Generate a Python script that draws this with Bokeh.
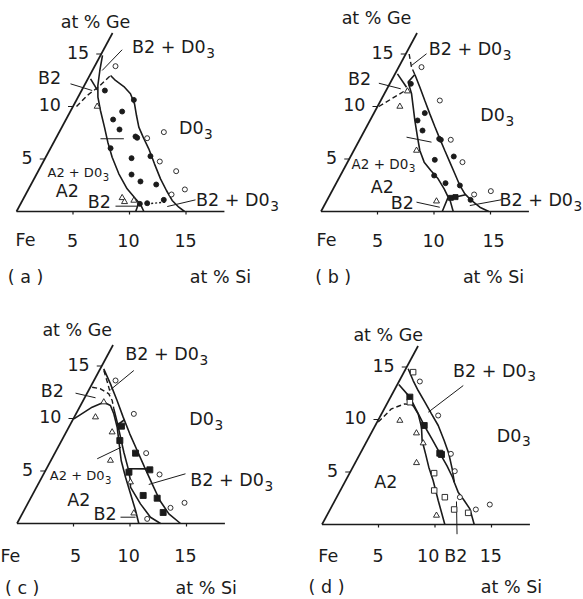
import numpy as np
from bokeh.plotting import figure
from bokeh.layouts import gridplot
from bokeh.models import Range1d
from bokeh.core.properties import value
from bokeh.embed import file_html
from bokeh.resources import INLINE

# ---------------------------------------------------------------------------
# Fe-rich corner of the Fe-Si-Ge system: compositions are (at.% Si, at.% Ge)
# ---------------------------------------------------------------------------
SI_TICKS = [5, 10, 15]
GE_TICKS = [5, 10, 15]
SI_EDGE_MAX = 18.4
GE_EDGE_MAX = 17.0

# (a)
A_LEFT = [(0.18, 14.86), (0.66, 13.43), (1.20, 12.00), (1.76, 10.89), (2.62, 9.62),
          (3.77, 8.03), (4.78, 6.60), (5.88, 5.17), (7.26, 3.59), (8.71, 2.16),
          (9.93, 1.21), (10.64, 0.67), (11.27, 0.0)]
A_RIGHT = [(1.85, 12.95), (2.52, 12.48), (3.55, 11.90), (4.48, 11.21), (5.32, 10.25),
           (6.05, 9.14), (6.81, 8.03), (7.67, 7.08), (8.72, 5.97), (9.94, 4.54),
           (11.19, 3.11), (12.27, 2.00), (13.25, 1.05), (14.16, 0.41), (14.87, 0.0)]
A_EXTRA = [[(0.24, 12.63), (1.35, 11.59)], [(10.40, 0.88), (10.55, 0.0)]]
A_DASHED = [[(0.31, 10.0), (0.73, 11.05), (1.34, 11.90), (1.85, 12.95)]]
A_DOTTED = [[(11.20, 0.73), (12.74, 0.89)]]
A_FILLED = [(2.06, 11.52), (5.07, 10.63), (4.59, 9.52), (4.17, 8.76), (5.21, 7.81),
            (6.96, 7.14), (7.17, 7.02), (5.31, 6.03), (7.64, 5.08), (9.22, 5.27),
            (8.42, 3.52), (9.54, 2.86), (11.08, 2.57), (12.48, 1.11), (10.55, 0.73),
            (11.17, 0.79)]
A_OPEN = [(1.84, 13.84), (9.26, 7.56), (8.07, 6.98), (10.30, 4.76), (12.21, 3.84),
          (13.85, 2.10), (12.91, 1.62)]
A_TRI = [(2.14, 10.0), (8.70, 1.30), (9.10, 0.92), (9.86, 1.05)]

# (b)
B_LEFT = [(1.78, 13.05), (1.55, 12.32), (2.41, 11.21), (3.19, 9.94), (3.97, 8.67),
          (5.00, 7.08), (5.84, 5.81), (6.78, 4.70), (7.77, 3.90), (8.81, 3.11),
          (9.82, 2.16), (10.57, 1.37), (10.73, 0.0)]
B_RIGHT = [(1.78, 13.05), (2.83, 11.84), (3.90, 10.57), (4.98, 9.30), (6.02, 8.10),
           (7.06, 6.92), (8.05, 5.81), (9.05, 4.70), (10.05, 3.59), (11.05, 2.48),
           (11.89, 1.68), (12.79, 1.05), (13.85, 0.41), (14.85, 0.0)]
B_EXTRA = [[(0.21, 13.11), (1.65, 11.84)], [(10.75, 1.25), (11.70, 0.0)],
           [(10.75, 1.25), (12.00, 1.60)]]
B_DASHED = [[(0.30, 15.0), (1.14, 13.74), (1.78, 13.05)], [(0.12, 10.0), (1.87, 11.69)]]
B_FILLED = [(1.87, 12.16), (4.50, 9.37), (4.21, 8.67), (5.13, 7.71), (7.00, 6.92),
            (7.19, 6.83), (7.61, 4.92), (9.13, 5.24), (8.30, 3.43), (9.67, 2.70),
            (11.05, 2.48), (12.68, 1.11)]
B_FILLED_SQ = [(10.84, 1.30), (11.22, 1.37)]
B_OPEN = [(2.02, 13.75), (5.23, 10.57), (8.07, 6.83), (10.17, 4.70), (12.74, 1.62),
          (14.06, 1.94)]
B_TRI = [(1.92, 11.46), (1.98, 10.0), (5.55, 5.81), (9.73, 0.98)]

# (c)
C_LEFT = [(0.05, 9.97), (1.11, 11.08), (1.91, 11.55), (2.65, 11.24), (3.34, 10.45),
          (4.28, 9.17), (5.06, 7.90), (6.22, 6.00), (7.40, 4.41), (8.63, 2.83),
          (9.87, 1.24), (10.78, 0.0)]
C_MIDDLE = [(3.11, 10.92), (4.04, 9.65), (5.05, 8.22), (6.06, 6.79), (7.12, 5.37),
            (7.99, 4.10), (8.31, 3.46), (9.99, 1.87), (11.51, 0.60), (12.70, 0.0)]
C_RIGHT = [(0.31, 14.73), (1.62, 13.30), (3.00, 11.71), (4.33, 10.13), (5.71, 8.54),
           (7.16, 6.95), (8.60, 5.37), (10.07, 3.78), (11.55, 2.19), (12.98, 0.92),
           (14.47, 0.0)]
C_EXTRA = [[(4.14, 9.33), (4.57, 9.88)], [(7.24, 5.21), (8.90, 5.20)]]
C_DASHED = [[(0.16, 12.98), (0.97, 12.83), (1.95, 12.35), (2.57, 11.71), (3.11, 10.92)],
            [(0.40, 14.57), (1.39, 13.30), (2.10, 12.35)]]
C_FILLED_SQ = [(4.61, 9.27), (5.15, 7.90), (7.14, 6.70), (7.46, 4.89), (9.20, 5.11),
               (9.83, 2.67), (11.20, 2.41), (12.41, 1.05)]
C_OPEN = [(1.91, 13.62), (5.12, 10.44), (8.08, 6.70), (10.28, 4.67), (12.84, 1.49),
          (13.84, 1.97), (11.30, 0.44)]
C_TRI = [(1.90, 11.56), (1.88, 10.13), (4.07, 8.70), (5.27, 6.00), (8.07, 3.94),
         (9.85, 0.98)]

# (d)
D_RIGHT = [(0.21, 14.83), (1.21, 13.71), (2.13, 12.76), (3.28, 11.65), (4.42, 10.54),
           (5.57, 9.43), (6.81, 8.00), (7.86, 6.73), (8.87, 5.30), (9.69, 4.03),
           (10.51, 3.08), (11.44, 2.29), (12.34, 1.49), (13.47, 0.0)]
D_MIDDLE = [(0.13, 13.33), (1.71, 12.13), (3.00, 10.80), (4.33, 9.43), (5.70, 8.10),
            (7.03, 6.79), (8.30, 5.55), (9.30, 4.50), (9.69, 4.03)]
D_LEFT = [(2.40, 11.33), (3.24, 10.54), (4.17, 9.27), (4.86, 8.00), (5.80, 6.73),
          (6.72, 5.46), (7.74, 4.19), (9.14, 2.29), (10.87, 0.0)]
D_DASHED = [[(0.10, 9.75), (0.64, 11.02), (1.59, 11.49), (2.40, 11.33)]]
D_FILLED_SQ = [(1.71, 12.13), (4.33, 9.43), (7.03, 6.79), (7.24, 6.67)]
D_OPEN = [(1.85, 13.62), (5.09, 10.38), (8.04, 6.73), (9.21, 5.08), (10.90, 2.60),
          (12.90, 1.43), (13.90, 1.90)]
D_OPEN_SQ = [(0.81, 14.51), (1.95, 11.65), (7.48, 4.89), (8.31, 3.24), (9.57, 2.60),
             (10.98, 1.43), (12.38, 1.11)]
D_TRI = [(1.94, 9.90), (4.01, 8.70), (5.08, 7.75), (5.43, 5.87), (9.70, 0.86)]

# ---------------------------------------------------------------------------
# Annotations, in plot units (x along the Si edge, y vertical)
# label: (x, y, text, font px, align, subscript)
# ---------------------------------------------------------------------------
LABELS_A = [(6.99, 15.67, "at % Ge", 17.5, "center", ""),
            (16.73, 13.53, "B2 + D0", 17.5, "right", "3"),
            (2.92, 11.05, "B2", 17.5, "center", ""),
            (16.55, 6.85, "D0", 17.5, "right", "3"),
            (7.58, 3.22, "A2 + D0", 13.0, "right", "3"),
            (4.49, 1.73, "A2", 17.5, "center", ""),
            (7.32, 0.77, "B2", 17.5, "center", ""),
            (22.40, 0.91, "B2 + D0", 17.5, "right", "3"),
            (0.80, -5.44, "( a )", 17.5, "center", ""),
            (18.05, -5.44, "at % Si", 17.5, "center", "")]
LABELS_B = [(4.91, 16.00, "at % Ge", 17.5, "center", ""),
            (16.04, 13.42, "B2 + D0", 17.5, "right", "3"),
            (3.41, 10.94, "B2", 17.5, "center", ""),
            (16.27, 7.92, "D0", 17.5, "right", "3"),
            (7.72, 3.93, "A2 + D0", 13.5, "right", "3"),
            (5.42, 2.00, "A2", 17.5, "center", ""),
            (7.20, 0.72, "B2", 17.5, "center", ""),
            (22.30, 0.91, "B2 + D0", 17.5, "right", "3"),
            (1.08, -5.42, "( b )", 17.5, "center", ""),
            (15.27, -5.42, "at % Si", 17.5, "center", "")]
LABELS_C = [(5.33, 15.92, "at % Ge", 17.5, "center", ""),
            (16.09, 14.00, "B2 + D0", 17.5, "right", "3"),
            (3.12, 10.89, "B2", 17.5, "center", ""),
            (17.42, 8.64, "D0", 17.5, "right", "3"),
            (7.74, 3.96, "A2 + D0", 13.0, "right", "3"),
            (5.47, 1.90, "A2", 17.5, "center", ""),
            (7.79, 0.80, "B2", 17.5, "center", ""),
            (21.84, 3.55, "B2 + D0", 17.5, "right", "3"),
            (0.46, -5.30, "( c )", 17.5, "center", ""),
            (16.75, -5.30, "at % Si", 17.5, "center", "")]
LABELS_D = [(5.86, 15.59, "at % Ge", 17.5, "center", ""),
            (18.10, 12.70, "B2 + D0", 17.5, "right", "3"),
            (17.65, 7.34, "D0", 17.5, "right", "3"),
            (5.64, 3.49, "A2", 17.5, "center", ""),
            (0.40, -5.17, "( d )", 17.5, "center", ""),
            (16.77, -5.17, "at % Si", 17.5, "center", "")]

# Si tick label placement per panel: (label x for 5/10/15, row y, "Fe" x, extras)
TICKROW_A = ([4.96, 9.91, 14.96], -2.39, 0.80, [])
TICKROW_B = ([5.00, 9.96, 15.27], -2.39, 0.49, [])
TICKROW_C = ([5.18, 9.88, 14.91], -2.64, -0.58, [])
TICKROW_D = ([4.97, 9.40, 14.94], -2.56, 0.55, [(11.84, "B2")])

LEADERS_A = [((4.78, 10.53), (6.70, 9.98)), ((9.35, 13.34), (7.58, 11.63)),
             ((7.43, 6.00), (9.50, 6.00)), ((8.76, 0.44), (10.74, 0.44)),
             ((15.84, 0.96), (13.34, 0.41))]
LEADERS_B = [((5.12, 10.58), (7.06, 10.12)), ((9.34, 13.01), (8.01, 12.04)),
             ((7.57, 6.13), (9.78, 5.72)), ((8.45, 0.77), (10.51, 0.35)),
             ((15.97, 0.97), (13.17, 0.49))]
LEADERS_C = [((5.18, 10.75), (6.95, 10.37)), ((10.34, 12.62), (8.27, 11.03)),
             ((7.10, 5.34), (9.22, 6.29)), ((14.91, 4.10), (11.66, 3.22)),
             ((9.16, 0.52), (10.49, 0.52))]
LEADERS_D = [((12.50, 11.46), (9.40, 9.26)), ((11.90, 1.90), (11.95, -0.80))]

# ---------------------------------------------------------------------------
INK = "#1b1b1b"
FONT = "DejaVu Sans"
SIN60 = np.sqrt(3.0) / 2.0
PX_X = 11.3            # screen px per plot unit, horizontal
PX_Y = 10.5 / SIN60    # screen px per plot unit, vertical


def proj(points):
    pts = np.asarray(points, dtype=float)
    return pts[:, 0] + 0.5 * pts[:, 1], pts[:, 1] * SIN60


def make_figure(width, height, fe_px):
    fx, fy = fe_px
    x0 = -fx / PX_X
    y0 = -(height - fy) / PX_Y
    p = figure(width=width, height=height,
               x_range=Range1d(x0, x0 + width / PX_X),
               y_range=Range1d(y0, y0 + height / PX_Y),
               x_axis_location=None, y_axis_location=None,
               toolbar_location=None, output_backend="svg",
               min_border=0, outline_line_color=None,
               background_fill_color="white", border_fill_color="white")
    p.grid.visible = False
    return p


def put_text(p, x, y, text, size, align="center", sub=""):
    p.text(x=[x], y=[y], text=[text], text_font=value(FONT),
           text_font_size=f"{size}px", text_align=align,
           text_baseline="middle", text_color=INK)
    if sub:
        p.text(x=[x + 0.6 / PX_X], y=[y - 0.33 * size / PX_Y], text=[sub],
               text_font=value(FONT), text_font_size=f"{0.78 * size:.1f}px",
               text_align="left", text_baseline="middle", text_color=INK)


def draw_frame(p, tickrow):
    label_x, tick_y, fe_x, extras = tickrow
    x, y = proj([(0, 0), (SI_EDGE_MAX, 0)])
    p.line(x, y, line_color=INK, line_width=1.7)
    x, y = proj([(0, 0), (0, GE_EDGE_MAX)])
    p.line(x, y, line_color=INK, line_width=1.7)
    tx, ty = proj([(t, 0) for t in SI_TICKS])
    p.segment(x0=tx, y0=ty, x1=tx, y1=ty - 3.0 / PX_Y, line_color=INK, line_width=1.2)
    gx, gy = proj([(0, g) for g in GE_TICKS])
    p.segment(x0=gx, y0=gy, x1=gx - 5.0 / PX_X, y1=gy, line_color=INK, line_width=1.2)
    p.text(x=label_x, y=[tick_y] * len(SI_TICKS), text=[str(t) for t in SI_TICKS],
           text_font=value(FONT), text_font_size="17.5px", text_align="center",
           text_baseline="middle", text_color=INK)
    p.text(x=list(gx - 12.0 / PX_X), y=list(gy + 2.0 / PX_Y),
           text=[str(g) for g in GE_TICKS], text_font=value(FONT),
           text_font_size="17.5px", text_align="right", text_baseline="middle",
           text_color=INK)
    put_text(p, fe_x, tick_y, "Fe", 17.5)
    for (lx, ltxt) in extras:
        put_text(p, lx, tick_y, ltxt, 17.5)


def draw_lines(p, solid, dashed=(), dotted=()):
    for pts in solid:
        x, y = proj(pts)
        p.line(x, y, line_color=INK, line_width=1.6)
    for pts in dashed:
        x, y = proj(pts)
        p.line(x, y, line_color=INK, line_width=1.4, line_dash="5 3")
    for pts in dotted:
        x, y = proj(pts)
        p.line(x, y, line_color=INK, line_width=1.4, line_dash="2 2")


def draw_leaders(p, leaders):
    for (a, b) in leaders:
        p.line([a[0], b[0]], [a[1], b[1]], line_color=INK, line_width=1.0)


def draw_points(p, pts, marker, filled, size):
    if not pts:
        return
    x, y = proj(pts)
    p.scatter(x, y, marker=marker, size=size, line_color=INK, line_width=0.9,
              fill_color=INK if filled else "white")


def draw_labels(p, labels):
    for (x, y, txt, size, align, sub) in labels:
        put_text(p, x, y, txt, size, align, sub)


# (a)
pa = make_figure(291, 300, (16.0, 211.0))
draw_lines(pa, [A_LEFT, A_RIGHT] + A_EXTRA, A_DASHED, A_DOTTED)
draw_leaders(pa, LEADERS_A)
draw_frame(pa, TICKROW_A)
draw_points(pa, A_FILLED, "circle", True, 5)
draw_points(pa, A_OPEN, "circle", False, 5)
draw_points(pa, A_TRI, "triangle", False, 6)
draw_labels(pa, LABELS_A)

# (b)
pb = make_figure(292, 300, (29.5, 211.0))
draw_lines(pb, [B_LEFT, B_RIGHT] + B_EXTRA, B_DASHED)
draw_leaders(pb, LEADERS_B)
draw_frame(pb, TICKROW_B)
draw_points(pb, B_FILLED, "circle", True, 5)
draw_points(pb, B_FILLED_SQ, "square", True, 5)
draw_points(pb, B_OPEN, "circle", False, 5)
draw_points(pb, B_TRI, "triangle", False, 6)
draw_labels(pb, LABELS_B)

# (c)
pc = make_figure(291, 299, (16.5, 223.0))
draw_lines(pc, [C_LEFT, C_MIDDLE, C_RIGHT] + C_EXTRA, C_DASHED)
draw_leaders(pc, LEADERS_C)
draw_frame(pc, TICKROW_C)
draw_points(pc, C_FILLED_SQ, "square", True, 6)
draw_points(pc, C_OPEN, "circle", False, 5)
draw_points(pc, C_TRI, "triangle", False, 6)
draw_labels(pc, LABELS_C)

# (d)
pd = make_figure(292, 299, (30.5, 224.0))
draw_lines(pd, [D_LEFT, D_MIDDLE, D_RIGHT], D_DASHED)
draw_leaders(pd, LEADERS_D)
draw_frame(pd, TICKROW_D)
draw_points(pd, D_FILLED_SQ, "square", True, 6)
draw_points(pd, D_OPEN, "circle", False, 5)
draw_points(pd, D_OPEN_SQ, "square", False, 5.5)
draw_points(pd, D_TRI, "triangle", False, 6)
draw_labels(pd, LABELS_D)

grid = gridplot([[pa, pb], [pc, pd]], toolbar_location=None)

with open("out.html", "w") as f:
    f.write(file_html(grid, INLINE))
